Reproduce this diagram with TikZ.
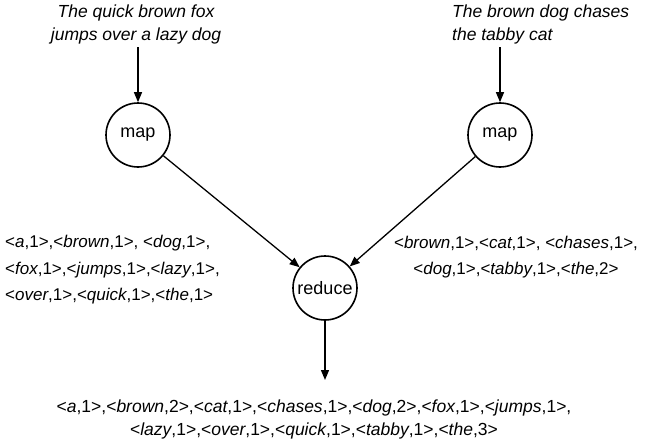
\documentclass[tikz,border=0pt]{standalone}
\usepackage{fontspec}
\setmainfont{Liberation Sans}
\usetikzlibrary{arrows.meta}
\newcommand{\kvp}[2]{<\textit{#1},#2>}
\begin{document}
\begin{tikzpicture}[x=1pt,y=-1pt,
  proc/.style={circle,draw,line width=1.6pt,minimum size=64pt,inner sep=0pt,font=\fontsize{18}{20}\selectfont},
  toptxt/.style={inner sep=0pt,font=\fontsize{17.5}{23}\selectfont\itshape},
  lbl/.style={inner sep=0pt,font=\fontsize{17}{26.5}\selectfont},
  outlbl/.style={inner sep=0pt,font=\fontsize{17.5}{23}\selectfont,align=center},
  arr/.style={line width=1.3pt,-{Triangle[length=10pt,width=8pt]}}]
\useasboundingbox (0,0) rectangle (649,439);
\node[toptxt,align=center] (t1) at (136,24) {The quick brown fox\\jumps over a lazy dog};
\node[toptxt,align=left,anchor=west] (t2) at (452,24) {The brown dog chases\\the tabby cat};
\node[proc] (m1) at (138,135) {map};
\node[proc] (m2) at (500,135) {map};
\node[proc] (rd) at (325,288) {reduce};
\node[lbl,align=left,anchor=west] (l1) at (5,270) {\kvp{a}{1},\kvp{brown}{1}, \kvp{dog}{1},\\\kvp{fox}{1},\kvp{jumps}{1},\kvp{lazy}{1},\\\kvp{over}{1},\kvp{quick}{1},\kvp{the}{1}};
\node[lbl,align=center] (l2) at (516,257) {\kvp{brown}{1},\kvp{cat}{1}, \kvp{chases}{1},\\\kvp{dog}{1},\kvp{tabby}{1},\kvp{the}{2}};
\node[outlbl] (out) at (314,419) {\kvp{a}{1},\kvp{brown}{2},\kvp{cat}{1},\kvp{chases}{1},\kvp{dog}{2},\kvp{fox}{1},\kvp{jumps}{1},\\\kvp{lazy}{1},\kvp{over}{1},\kvp{quick}{1},\kvp{tabby}{1},\kvp{the}{3}};
\coordinate (s1) at (138,47);
\coordinate (s2) at (500,47);
\coordinate (e3) at (325,380);
\draw[arr] (s1) -- (m1);
\draw[arr] (s2) -- (m2);
\draw[arr] (m1) -- (rd);
\draw[arr] (m2) -- (rd);
\draw[arr] (rd) -- (e3);
\end{tikzpicture}
\end{document}
